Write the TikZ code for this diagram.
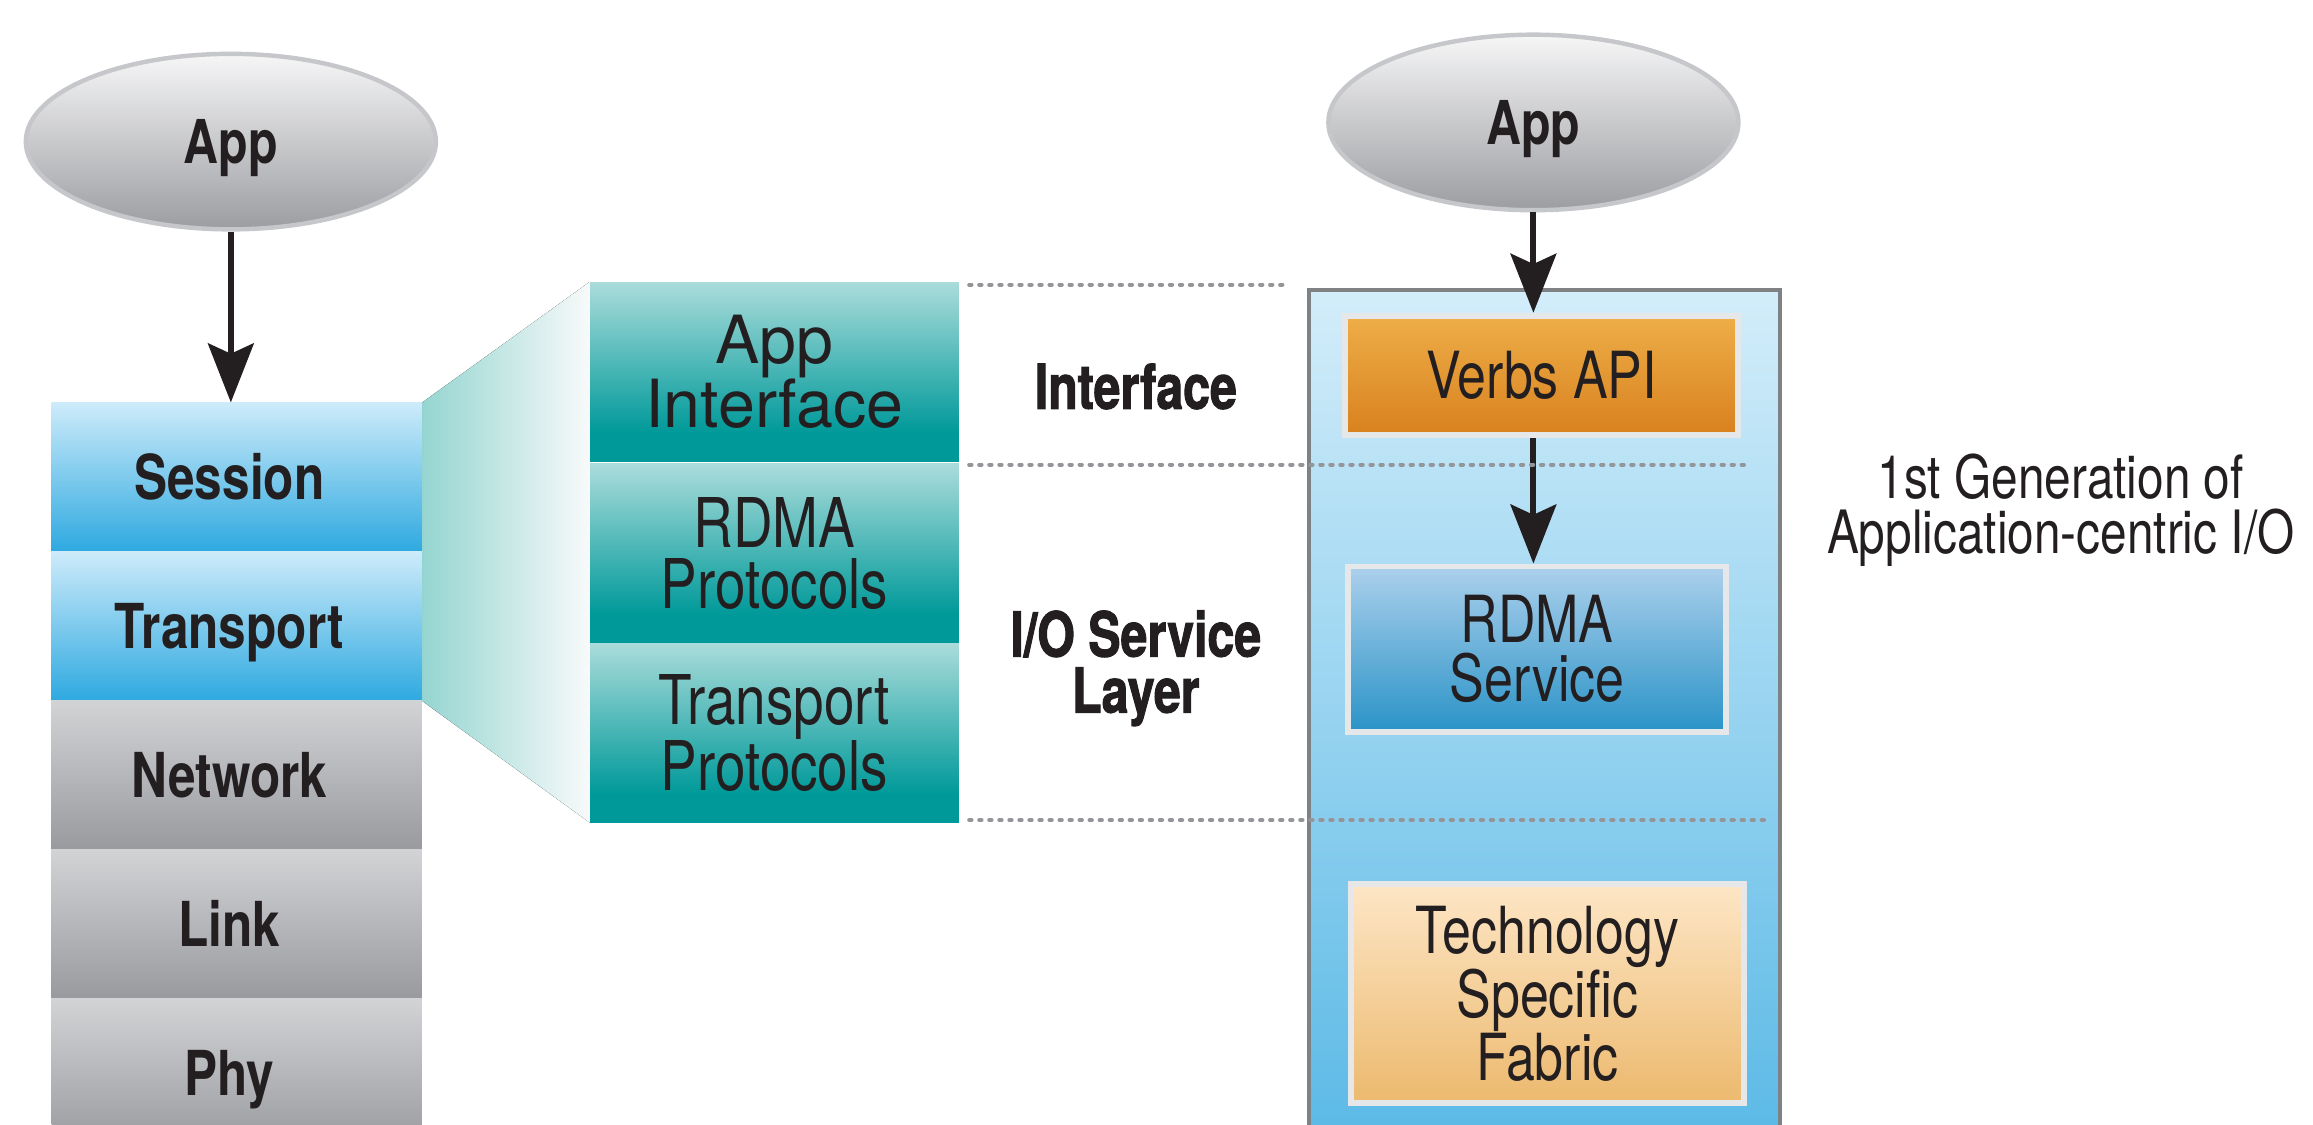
\documentclass[tikz,border=0pt]{standalone}
\usepackage{fontspec}
\setmainfont{TeX Gyre Heros}[FakeStretch=0.8]
\newfontfamily\widefont{TeX Gyre Heros}
\newfontfamily\heavyfont{TeX Gyre Heros}[FakeStretch=0.78, BoldFeatures={FakeBold=1.6}]
\usetikzlibrary{arrows.meta,shapes.geometric}

% palette
\definecolor{ink}{HTML}{231F20}
\definecolor{ellT}{HTML}{F6F6F7}
\definecolor{ellB}{HTML}{9C9DA1}
\definecolor{ellLine}{HTML}{C6C7CA}
\definecolor{blueT}{HTML}{CDEBFA}
\definecolor{blueB}{HTML}{2EA9E0}
\definecolor{grayT}{HTML}{D2D3D5}
\definecolor{grayB}{HTML}{999A9E}
\definecolor{tealL}{HTML}{AADCDB}
\definecolor{tealD}{HTML}{009999}
\definecolor{wedgeL}{HTML}{95D5D1}
\definecolor{wedgeR}{HTML}{F8FAFA}
\definecolor{frameT}{HTML}{D3EDFA}
\definecolor{frameB}{HTML}{5AB9E6}
\definecolor{frameLine}{HTML}{7F8285}
\definecolor{boxLine}{HTML}{E6E7E8}
\definecolor{verbT}{HTML}{EEAE48}
\definecolor{verbB}{HTML}{D8811E}
\definecolor{rdmaT}{HTML}{ACD0EC}
\definecolor{rdmaB}{HTML}{2A93C7}
\definecolor{fabT}{HTML}{FDE6C6}
\definecolor{fabB}{HTML}{ECB96E}
\definecolor{sepGray}{HTML}{939598}

% teal cells: solid dark band at the bottom, fading to light at the top
\pgfdeclareverticalshading{tealcell}{100bp}{color(0bp)=(tealD); color(33bp)=(tealD); color(75bp)=(tealL); color(100bp)=(tealL)}

\tikzset{
  appoval/.style={ellipse, minimum width=278pt, minimum height=119pt, inner sep=0pt,
    top color=ellT, bottom color=ellB, draw=ellLine, line width=3pt,
    text=ink, font=\bfseries\fontsize{41}{41}\selectfont, text height=30pt, text depth=0pt},
  layer/.style={rectangle, minimum width=251pt, minimum height=101pt, inner sep=0pt,
    text=ink, font=\bfseries\fontsize{42}{42}\selectfont, text height=30pt, text depth=0pt,
    execute at begin node={\hspace*{-10pt}}},
  bluelayer/.style={layer, top color=blueT, bottom color=blueB},
  graylayer/.style={layer, top color=grayT, bottom color=grayB},
  tealbox/.style={rectangle, minimum width=250pt, minimum height=121.5pt, inner sep=0pt,
    shading=tealcell, align=center, text=ink, font=\fontsize{46.5}{41}\selectfont},
  innerbox/.style={rectangle, inner sep=0pt, draw=boxLine, line width=4pt,
    align=center, text=ink, font=\fontsize{44}{40}\selectfont},
  layerlabel/.style={align=center, text=ink, font=\heavyfont\bfseries\fontsize{42}{38}\selectfont},
  note/.style={align=center, text=ink, font=\fontsize{40.5}{37}\selectfont},
  arr/.style={draw=ink, line width=4pt, -{Stealth[length=40pt, width=31pt, inset=7pt]}},
  sep/.style={draw=sepGray, line width=2.7pt, line cap=round, dash pattern=on 1.6pt off 5.2pt}
}

\begin{document}
\begin{tikzpicture}[x=1pt, y=-1pt]
  \useasboundingbox (0,0) rectangle (1568,762);

  % ---- left: layered stack ----
  \node[appoval] (appL) at (156.5,96) {App};
  \node[bluelayer] (session)   at (160.5,323.5) {Session};
  \node[bluelayer] (transport) at (160.5,424.5) {Transport};
  \node[graylayer] (network)   at (160.5,525.5) {Network};
  \node[graylayer] (link)      at (160.5,626.5) {Link};
  \node[graylayer] (phy)       at (160.5,727.5) {Phy};
  \draw[arr] (appL.south) -- (appL.south |- session.north);

  % ---- middle: expanded view of session + transport ----
  \node[tealbox, font=\widefont\fontsize{45}{42}\selectfont] (tApp) at (525,252) {App\\Interface};
  \node[tealbox] (tRdma) at (525,375.25) {RDMA\\Protocols};
  \node[tealbox] (tTran) at (525,496.75) {Transport\\Protocols};

  \fill[left color=wedgeL, right color=wedgeR]
    (session.north east) -- (tApp.north west) -- (tTran.south west)
    -- (transport.south east) -- cycle;

  \node[layerlabel] (lblIf)  at (770,262) {Interface};
  \node[layerlabel] (lblIo)  at (770,453) {I/O Service\\Layer};

  % ---- right: verbs based stack ----
  \node[rectangle, minimum width=319pt, minimum height=580pt, inner sep=0pt,
        top color=frameT, bottom color=frameB, draw=frameLine, line width=3pt]
        (frame) at (1047,486.5) {};

  \node[appoval] (appR) at (1039.5,83) {App};
  \node[innerbox, minimum width=266pt, minimum height=81pt,
        top color=verbT, bottom color=verbB] (verbs) at (1045,254.5) {Verbs API};
  \node[innerbox, minimum width=256pt, minimum height=112pt,
        top color=rdmaT, bottom color=rdmaB] (rdma) at (1042,440) {RDMA\\Service};
  \node[innerbox, minimum width=266pt, minimum height=149pt,
        top color=fabT, bottom color=fabB] (fabric) at (1049,673.5) {Technology\\Specific\\Fabric};

  \draw[arr] (appR.south) -- (appR.south |- verbs.north);
  \draw[arr] (verbs.south -| appR.south) -- (rdma.north -| appR.south);

  % ---- dotted layer separators ----
  \coordinate (s1a) at (657,193);  \coordinate (s1b) at (874,193);
  \coordinate (s2a) at (657,315);  \coordinate (s2b) at (1186,315);
  \coordinate (s3a) at (657,556);  \coordinate (s3b) at (1196,556);
  \draw[sep] (s1a) -- (s1b);
  \draw[sep] (s2a) -- (s2b);
  \draw[sep] (s3a) -- (s3b);

  \node[note] (gen) at (1397,346) {1st Generation of\\Application-centric I/O};
\end{tikzpicture}
\end{document}
